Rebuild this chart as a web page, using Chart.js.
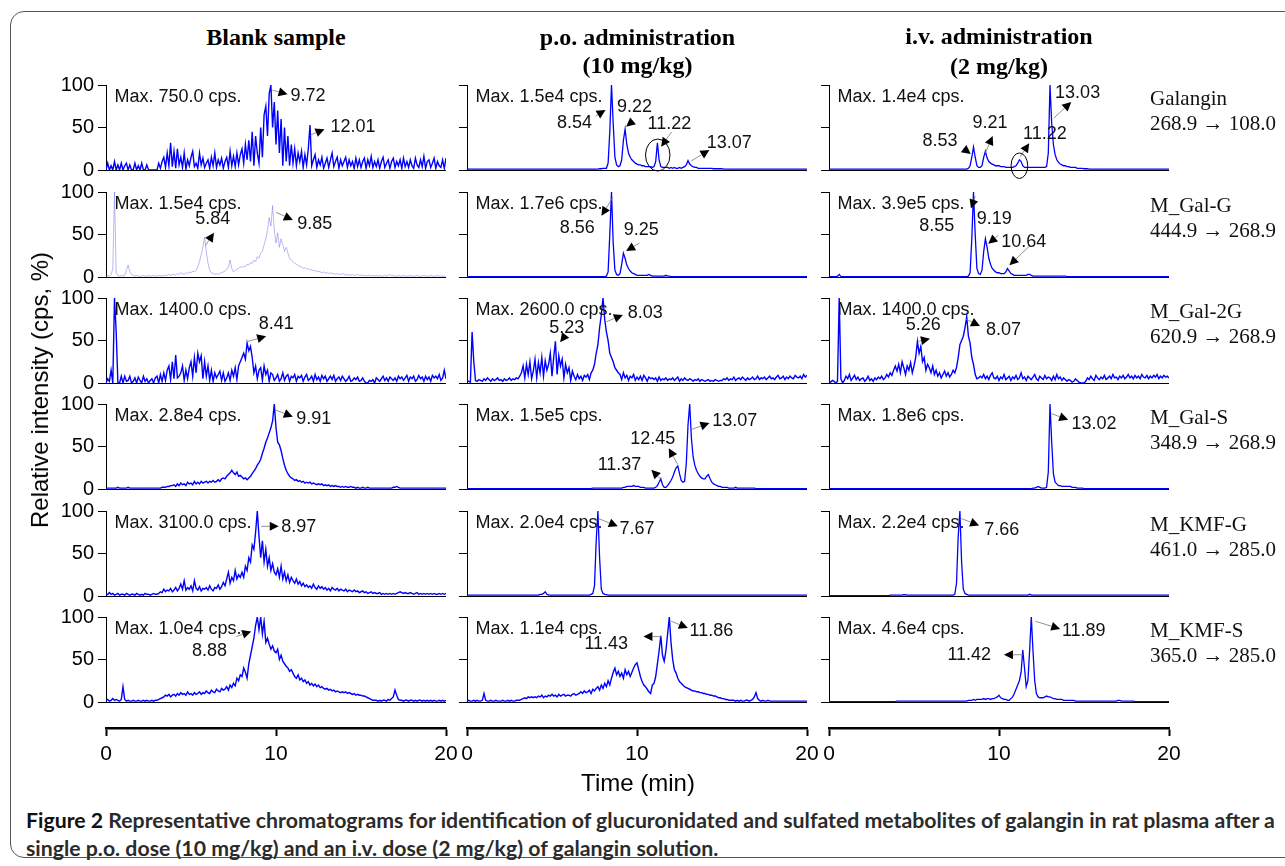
<!DOCTYPE html>
<html><head><meta charset="utf-8">
<script src="https://cdn.jsdelivr.net/npm/chart.js@4.4.0/dist/chart.umd.min.js"></script>
<style>
html,body{margin:0;padding:0;background:#fff;}
body{width:1285px;height:866px;position:relative;overflow:hidden;font-family:"Liberation Sans",Arial,sans-serif;}
.frame{position:absolute;left:10px;top:11px;width:1300px;height:847px;border:1.5px solid #555;border-radius:14px;box-sizing:border-box;}
.t{position:absolute;white-space:nowrap;line-height:1;}
.ct{font-family:"Liberation Serif";font-weight:bold;font-size:24px;transform:translate(-50%,-50%);color:#000;}
.rl{font-family:"Liberation Serif";font-size:21px;transform:translateY(-50%);color:#111;}
.ax{font-family:"Liberation Sans";font-size:24px;color:#000;}
canvas{position:absolute;}
#cap{position:absolute;left:26px;top:806px;font-family:Lato,"Open Sans",sans-serif;font-weight:700;color:#2b2b2b;line-height:28px;white-space:nowrap;}
</style></head><body>
<div class="frame"></div>
<script>
// ---------- data (relative intensity %, sampled every 0.1 min from 0 to 20 min) ----------
const timeStep = 0.1;
const xTicks = [0, 10, 20];
const yTicks = [0, 50, 100];
const columnTitles = [['Blank sample'], ['p.o. administration', '(10 mg/kg)'], ['i.v. administration', '(2 mg/kg)']];
const analytes = ['Galangin', 'M_Gal-G', 'M_Gal-2G', 'M_Gal-S', 'M_KMF-G', 'M_KMF-S'];
const transitions = ['268.9 → 108.0', '444.9 → 268.9', '620.9 → 268.9', '348.9 → 268.9', '461.0 → 285.0', '365.0 → 285.0'];
const maxLabels = [
  ['Max. 750.0 cps.', 'Max. 1.5e4 cps.', 'Max. 1.4e4 cps.'],
  ['Max. 1.5e4 cps.', 'Max. 1.7e6 cps.', 'Max. 3.9e5 cps.'],
  ['Max. 1400.0 cps.', 'Max. 2600.0 cps.', 'Max. 1400.0 cps.'],
  ['Max. 2.8e4 cps.', 'Max. 1.5e5 cps.', 'Max. 1.8e6 cps.'],
  ['Max. 3100.0 cps.', 'Max. 2.0e4 cps.', 'Max. 2.2e4 cps.'],
  ['Max. 1.0e4 cps.', 'Max. 1.1e4 cps.', 'Max. 4.6e4 cps.']
];

const blankGalangin = [
0,8,0,5,0,10,0,6,0,8,
0,5,8,0,6,0,0,8,0,5,
0,8,0,0,6,0,0,0,0,0,
0,8,2,10,15,3,20,5,32,4,
22,2,25,6,15,3,20,1,12,5,
15,22,4,8,2,20,6,14,3,8,
12,2,15,5,20,3,12,6,14,2,
10,15,3,22,5,16,4,20,6,18,
25,8,30,12,35,10,45,5,40,20,
8,50,15,65,75,40,90,100,50,80,
30,70,20,60,5,50,10,40,5,30,
8,25,5,20,10,22,3,18,6,25,
53,5,12,18,3,12,6,15,2,8,
14,3,12,20,4,10,15,2,12,5,
10,15,3,12,5,10,2,14,4,12,
3,10,14,2,12,5,16,3,10,4,
12,2,10,15,3,8,12,2,10,14,
3,10,5,12,2,14,4,10,3,12,
5,2,14,6,3,12,4,16,2,10,
12,3,8,14,2,10,5,3,12,2,
14];
const blankGalG = [
1,2,1,3,10,100,5,2,1,2,
1,2,8,14,6,3,2,1,2,1,
1,1,2,1,1,2,1,1,2,1,
1,2,1,2,1,2,2,3,2,3,
3,2,4,3,5,4,3,5,4,6,
5,7,6,8,12,18,26,35,47,30,
16,8,5,4,3,4,3,4,5,6,
7,9,12,20,10,6,8,9,10,12,
11,13,12,15,14,17,16,20,18,24,
22,28,30,38,45,55,70,60,84,55,
40,52,35,45,38,30,35,28,22,20,
18,16,15,14,12,12,10,11,9,10,
8,9,7,8,6,7,6,5,6,5,
5,4,5,4,4,3,4,3,3,4,
3,3,2,3,2,3,2,2,3,2,
2,2,2,1,2,2,1,2,1,2,
1,2,1,1,2,1,2,3,1,2,
1,1,2,1,1,2,1,1,1,2,
1,1,1,2,1,1,1,2,1,1,
1,2,1,1,1,2,1,1,1,1,
1];
const blankGal2G = [
0,5,2,15,0,100,60,0,0,8,
0,8,2,3,8,0,2,6,0,7,
3,0,8,2,5,0,3,5,0,6,
8,0,10,2,12,3,15,20,4,25,
5,33,6,8,12,20,3,15,5,18,
25,8,30,12,35,25,32,5,25,8,
20,3,15,2,12,6,10,14,3,12,
2,6,12,3,15,8,18,4,20,25,
30,35,28,47,38,43,30,12,20,5,
15,18,3,20,10,15,2,12,10,3,
6,10,2,5,12,3,8,10,2,8,
6,10,2,8,6,9,2,7,10,3,
5,8,2,10,4,7,2,9,5,8,
2,5,8,4,9,2,5,7,3,8,
5,2,4,8,2,3,6,4,7,2,
3,6,2,0,0,3,2,4,0,6,
4,2,5,8,3,6,2,7,5,3,
6,2,8,5,7,3,6,9,2,7,
5,8,2,4,9,5,7,2,8,4,
7,2,9,6,8,5,10,3,6,15,
5];
const blankGalS = [
1,1,1,1,1,1,1,2,1,1,
1,1,1,2,1,1,1,1,1,1,
1,1,1,1,1,1,1,1,1,1,
1,1,1,2,2,2,3,3,4,4,
5,3,6,4,7,5,6,4,8,6,
7,5,9,6,8,6,9,7,8,9,
7,9,8,10,8,9,11,9,12,13,
12,15,17,19,22,19,17,20,15,16,
14,12,13,11,13,15,18,21,24,28,
31,35,42,48,55,60,66,72,80,100,
72,55,52,45,36,28,22,18,15,13,
12,10,11,9,10,8,9,7,8,7,
8,6,7,6,5,6,5,6,4,5,
4,5,3,4,3,4,3,3,2,3,
2,3,2,2,3,2,2,1,2,1,
1,2,1,1,2,1,1,1,1,1,
1,1,1,1,1,1,1,1,1,2,
2,3,2,1,1,1,1,1,1,1,
1,1,1,1,1,1,1,1,1,1,
1,1,1,1,1,1,1,1,1,1,
1];
const blankKmfG = [
1,2,4,2,3,1,2,3,1,2,
2,1,3,2,1,2,2,1,3,2,
1,2,1,3,2,2,1,2,3,2,
2,3,5,4,8,5,7,6,9,5,
7,10,6,9,14,8,18,7,10,8,
12,6,18,9,7,11,6,9,8,10,
7,12,8,6,10,9,13,8,11,16,
12,20,28,15,22,18,30,20,25,22,
28,22,35,30,45,40,60,55,75,100,
70,45,65,40,55,35,45,30,38,28,
25,32,22,35,20,28,18,25,16,22,
18,15,20,14,17,12,15,11,13,10,
12,9,14,10,8,12,9,11,8,10,
7,9,6,10,8,7,9,6,8,7,
6,8,5,7,6,5,7,5,6,4,
5,6,4,5,3,4,5,3,4,3,
3,4,2,3,2,3,2,3,2,3,
2,3,4,5,4,3,4,3,3,4,
3,2,3,4,2,3,2,3,2,3,
2,3,2,3,2,2,3,2,3,2,
3];
const blankKmfS = [
2,3,1,2,4,2,3,2,1,3,
18,3,1,2,1,1,2,1,1,2,
1,1,2,1,2,1,1,2,1,2,
2,3,4,5,6,8,7,9,6,8,
9,7,10,8,11,9,10,8,12,9,
10,8,11,9,10,12,9,11,10,13,
11,10,14,12,11,15,13,12,16,14,
15,18,14,20,17,22,19,28,25,32,
30,40,35,28,45,55,65,75,90,100,
85,100,80,95,70,75,68,62,66,60,
58,62,50,55,48,45,42,40,36,38,
34,30,28,32,26,28,24,26,22,24,
20,22,19,21,18,20,17,18,16,15,
16,14,15,13,14,12,13,12,11,12,
11,12,10,11,10,9,10,8,9,8,
8,7,7,6,5,4,3,2,2,2,
1,2,1,2,2,1,3,2,4,6,
14,8,3,2,2,1,2,2,1,2,
2,1,2,1,2,2,1,2,1,2,
1,2,1,2,1,1,2,1,2,1,
2];
const poGalangin = [
1,1,1,1,1,1,1,1,1,1,
1,1,1,1,1,1,1,1,1,1,
1,1,1,1,1,1,1,1,1,1,
1,1,1,1,1,1,1,1,1,1,
1,1,1,1,1,1,1,1,1,1,
1,1,1,1,1,1,1,1,1,1,
1,1,1,1,1,1,1,1,1,1,
1,1,1,1,1,1,1,1,1.5,1.5,
2,2,2,8,45,100,55,15,6,4,
5,12,35,48,30,20,15,12,10,8,
7,6,6,5,5,4,4,4,4,3,
4,10,32,12,4,3,3,3,3,2,
3,2,3,2,2,3,2,3,4,6,
11,7,5,4,3,3,2,2,2,2,
2,2,2,2,2,1.5,1.5,1.5,1.5,1.5,
1.5,1,1,1,1,1,1,1,1,1,
1,1,1,1,1,1,1,1,1,1,
1,1,1,1,1,1,1,1,1,1,
1,1,1,1,1,1,1,1,1,1,
1,1,1,1,1,1,1,1,1,1,
1];
const poGalG = [
0.5,0.5,0.5,0.5,0.5,0.5,0.5,0.5,0.5,0.5,
0.5,0.5,0.5,0.5,0.5,0.5,0.5,0.5,0.5,0.5,
0.5,0.5,0.5,0.5,0.5,0.5,0.5,0.5,0.5,0.5,
0.5,0.5,0.5,0.5,0.5,0.5,0.5,0.5,0.5,0.5,
0.5,0.5,0.5,0.5,0.5,0.5,0.5,0.5,0.5,0.5,
0.5,0.5,0.5,0.5,0.5,0.5,0.5,0.5,0.5,0.5,
0.5,0.5,0.5,0.5,0.5,0.5,0.5,0.5,0.5,0.5,
0.5,0.5,0.5,0.5,0.5,0.5,0.5,0.5,0.5,0.5,
0.5,0.5,1,6,50,100,40,8,3,2,
4,15,28,22,14,10,7,5,4,3,
2,2,2,2,2,2,2,3,2,1,
1,1,1,1,1,1,1,2,1,1,
0.5,0.5,0.5,0.5,0.5,0.5,0.5,0.5,0.5,0.5,
0.5,0.5,0.5,0.5,0.5,0.5,0.5,0.5,0.5,0.5,
0.5,0.5,0.5,0.5,0.5,0.5,0.5,0.5,0.5,0.5,
0.5,0.5,0.5,0.5,0.5,0.5,0.5,0.5,0.5,0.5,
0.5,0.5,0.5,0.5,0.5,0.5,0.5,0.5,0.5,0.5,
0.5,0.5,0.5,0.5,0.5,0.5,0.5,0.5,0.5,0.5,
0.5,0.5,0.5,0.5,0.5,0.5,0.5,0.5,0.5,0.5,
0.5,0.5,0.5,0.5,0.5,0.5,0.5,0.5,0.5,0.5,
0.5];
const poGal2G = [
3,2,1,60,25,3,2,4,3,2,
5,3,6,4,2,5,3,4,6,3,
4,2,5,3,4,6,3,5,4,6,
5,8,12,20,6,22,10,25,5,14,
28,6,24,12,30,8,26,15,22,35,
8,30,49,10,32,20,28,6,22,12,
18,3,14,8,4,10,5,8,3,9,
7,10,4,12,15,22,35,45,65,80,
100,75,60,50,35,30,25,18,15,12,
10,4,12,6,9,3,8,6,10,3,
7,4,8,3,9,6,2,7,5,6,
4,6,2,7,3,5,4,6,3,5,
4,6,3,5,7,2,5,3,6,4,
3,5,4,2,4,3,5,2,4,3,
2,3,4,2,3,2,4,3,2,3,
3,5,4,6,3,5,4,7,3,5,
6,4,7,5,3,6,4,5,7,4,
5,8,4,6,5,7,4,6,8,5,
6,4,7,9,5,6,8,4,7,5,
8,6,5,9,7,6,8,5,10,7,
9];
const poGalS = [
0.5,0.5,0.5,0.5,0.5,0.5,0.5,0.5,0.5,0.5,
0.5,0.5,0.5,0.5,0.5,0.5,0.5,0.5,0.5,0.5,
0.5,0.5,0.5,0.5,0.5,0.5,0.5,0.5,0.5,0.5,
0.5,0.5,0.5,0.5,0.5,0.5,0.5,0.5,0.5,0.5,
0.5,0.5,0.5,0.5,0.5,0.5,0.5,0.5,0.5,0.5,
0.5,0.5,0.5,0.5,0.5,0.5,0.5,0.5,0.5,0.5,
0.5,0.5,0.5,0.5,0.5,0.5,0.5,0.5,0.5,0.5,
0.5,0.5,0.5,0.5,1,1,1,1,1,1,
1,1,1,1,1,1,1,1,1,1,
1,1,2,2,3,3,3,3,4,3,
3,3,2,2,2,1,1,1,1,1,
1,2,4,8,12,5,2,2,4,7,
10,14,20,25,27,18,10,8,9,30,
75,100,60,38,28,22,18,15,13,12,
12,15,17,12,8,6,5,4,3,3,
2,2,2,2,1,1,1,1,2,1,
1,1,1,1,1,1,1,1,1,1,
0.5,0.5,0.5,0.5,0.5,0.5,0.5,0.5,0.5,0.5,
0.5,0.5,0.5,0.5,0.5,0.5,0.5,0.5,0.5,0.5,
0.5,0.5,0.5,0.5,0.5,0.5,0.5,0.5,0.5,0.5,
0.5];
const poKmfG = [
1,1,1,1,1,1,1,1,1,1,
1,1,1,1,1,1,1,1,1,1,
1,1,1,1,1,1,1,1,1,1,
1,1,1,1,1,1,1,1,1,1,
1,1,1,2,2,3,5,2,1,1,
1,1,1,1,1,1,1,1,1,1,
1,1,1,1,1,1,1,1,1,1,
1,1,1,2,3,12,65,100,45,8,
3,2,1.5,1,1,1,1,1,1,1,
1,1,1,1,1,1,1,1,1,1,
1,1,1,1,1,1,1,1,1,1,
1,1,1,1,1,1,1,1,1,1,
1,1,1,1,1,1,1,1,1,1,
1,1,1,1,1,1,1,1,1,1,
1,1,1,1,1,1,1,1,1,1,
1,1,1,1,1,1,1,1,1,1,
1,1,1,1,1,1,1,1,1,1,
1,1,1,1,1,1,1,1,1,1,
1,1,1,1,1,1,1,1,1,1,
1,1,1,1,1,1,1,1,1,1,
1];
const poKmfS = [
1,2,1,1,2,1,2,1,1,2,
10,2,1,1,2,1,1,2,1,1,
1,2,1,1,2,1,2,1,1,2,
2,2,3,4,5,4,6,5,6,5,
6,5,7,6,8,5,7,6,8,7,
9,7,8,6,9,7,8,9,7,8,
8,7,9,10,8,9,10,12,10,13,
11,12,14,10,15,13,16,18,14,20,
16,22,18,25,20,28,35,40,32,36,
30,34,28,38,32,36,30,35,40,44,
46,38,30,24,20,18,15,12,10,20,
22,30,45,60,78,55,48,60,80,100,
70,50,38,34,28,24,22,20,18,17,
16,15,14,13,13,12,12,11,11,10,
10,9,9,8,8,7,7,6,5,5,
4,4,3,3,2,2,2,2,1,2,
1,2,1,1,2,2,1,2,3,6,
11,4,2,1,2,1,1,2,1,1,
1,1,1,1,1,1,1,1,1,1,
1,1,1,1,1,1,1,1,1,1,
1];
const ivGalangin = [
1,1,1,1,1,1,1,1,1,1,
1,1,1,1,1,1,1,1,1,1,
1,1,1,1,1,1,1,1,1,1,
1,1,1,1,1,1,1,1,1,1,
1,1,1,1,1,1,1,1,1,1,
1,1,1,1,1,1,1,1,1,1,
1,1,1,1,1,1,1,1,1,1,
1,1,1,1,1,1,1,1,1,1,
1,1,2,5,15,27,15,5,3,3,
5,15,22,14,10,8,7,6,5,5,
5,4,4,4,3,3,3,3,3,4,
5,8,12,10,5,3,3,3,3,3,
3,3,3,3,3,3,3,3,4,20,
100,55,30,18,12,9,7,6,5,5,
4,4,3,3,3,3,2,2,2,2,
1.5,1.5,1.5,1,1,1,1,1,1,1,
1,1,1,1,1,1,1,1,1,1,
1,1,1,1,1,1,1,1,1,1,
1,1,1,1,1,1,1,1,1,1,
1,1,1,1,1,1,1,1,1,1,
1];
const ivGalG = [
0.5,0.5,0.5,0.5,0.5,1,3,0.5,0.5,0.5,
0.5,0.5,0.5,0.5,0.5,0.5,0.5,0.5,0.5,0.5,
0.5,0.5,0.5,0.5,0.5,0.5,0.5,0.5,0.5,0.5,
0.5,0.5,0.5,0.5,0.5,0.5,0.5,0.5,0.5,0.5,
0.5,0.5,0.5,0.5,0.5,0.5,0.5,0.5,0.5,0.5,
0.5,0.5,0.5,0.5,0.5,0.5,0.5,0.5,0.5,0.5,
0.5,0.5,0.5,0.5,0.5,0.5,0.5,0.5,0.5,0.5,
0.5,0.5,0.5,0.5,0.5,0.5,0.5,0.5,0.5,0.5,
0.5,0.5,1,5,45,100,50,10,4,3,
8,30,45,35,22,15,10,8,6,5,
5,4,4,4,6,10,7,4,3,2,
2,2,2,2,2,2,2,3,3,2,
1,1,1,1,1,1,1,1,1,1,
1,1,1,1,1,1,1,1,1,1,
0.5,0.5,0.5,0.5,0.5,0.5,0.5,0.5,0.5,0.5,
0.5,0.5,0.5,0.5,0.5,0.5,0.5,0.5,0.5,0.5,
0.5,0.5,0.5,0.5,0.5,0.5,0.5,0.5,0.5,0.5,
0.5,0.5,0.5,0.5,0.5,0.5,0.5,0.5,0.5,0.5,
0.5,0.5,0.5,0.5,0.5,0.5,0.5,0.5,0.5,0.5,
0.5,0.5,0.5,0.5,0.5,0.5,0.5,0.5,0.5,0.5,
0.5];
const ivGal2G = [
2,1,3,2,0,2,100,5,0,3,
8,5,10,3,6,9,4,7,3,5,
6,2,4,8,3,5,2,6,4,7,
5,8,4,6,10,7,12,9,15,20,
14,22,12,25,18,10,20,15,24,12,
20,30,49,35,43,25,30,15,22,18,
12,20,10,15,8,12,6,10,14,8,
12,7,10,15,12,18,30,45,50,55,
65,78,55,47,30,22,10,5,6,8,
6,10,5,8,4,9,12,6,5,8,
3,7,5,10,4,6,8,3,7,5,
9,4,6,12,5,7,3,8,6,4,
7,10,5,3,8,6,4,9,5,7,
6,3,8,4,10,5,7,3,6,4,
2,4,3,1,2,5,3,1,0,0,
0,2,6,4,8,5,3,9,6,4,
7,5,9,4,6,8,5,10,6,7,
4,8,6,9,5,7,10,6,8,5,
9,6,8,5,10,7,6,9,5,8,
6,9,7,10,5,8,6,9,7,8,
6];
const ivGalS = [
0.5,0.5,0.5,0.5,0.5,0.5,0.5,0.5,0.5,0.5,
0.5,0.5,0.5,0.5,0.5,0.5,0.5,0.5,0.5,0.5,
0.5,0.5,0.5,0.5,0.5,0.5,0.5,0.5,0.5,0.5,
0.5,0.5,0.5,0.5,0.5,0.5,0.5,0.5,0.5,0.5,
0.5,0.5,0.5,0.5,0.5,0.5,0.5,0.5,0.5,0.5,
0.5,0.5,0.5,0.5,0.5,0.5,0.5,0.5,0.5,0.5,
0.5,0.5,0.5,0.5,0.5,0.5,0.5,0.5,0.5,0.5,
0.5,0.5,0.5,0.5,0.5,0.5,0.5,0.5,0.5,0.5,
0.5,0.5,0.5,0.5,0.5,0.5,0.5,0.5,0.5,0.5,
0.5,0.5,0.5,0.5,0.5,0.5,0.5,0.5,0.5,0.5,
0.5,0.5,0.5,0.5,0.5,0.5,0.5,0.5,0.5,0.5,
0.5,0.5,0.5,0.5,0.5,0.5,0.5,0.5,0.5,0.5,
1,1,2,3,2,1,1,1,2,20,
100,55,18,8,6,4,4,3,3,3,
3,3,3,2,2,2,1,1,1,1,
0.5,0.5,0.5,0.5,0.5,0.5,0.5,0.5,0.5,0.5,
0.5,0.5,0.5,0.5,0.5,0.5,0.5,0.5,0.5,0.5,
0.5,0.5,0.5,0.5,0.5,0.5,0.5,0.5,0.5,0.5,
0.5,0.5,0.5,0.5,0.5,0.5,0.5,0.5,0.5,0.5,
0.5,0.5,0.5,0.5,0.5,0.5,0.5,0.5,0.5,0.5,
0.5];
const ivKmfG = [
0.5,0.5,0.5,0.5,0.5,0.5,0.5,0.5,0.5,0.5,
0.5,0.5,0.5,0.5,0.5,0.5,0.5,0.5,0.5,0.5,
0.5,0.5,0.5,0.5,0.5,0.5,0.5,0.5,0.5,0.5,
0.5,0.5,0.5,0.5,0.5,0.5,1,1,1,1,
1,1,1,1,1.5,1.5,1,1,1,1,
1,1,1,1,1,1,1,1,1,1,
1,1,1,1,1,1,1,1,1,1,
1,1,1,1,2,15,70,100,40,8,
3,2,1,1,1,1,1,1,1,1,
1,1,1,1,1,1,1,1,1,1,
1,1,1,1,1,1,1,1,1,1,
1,1,1,1,1,1,1,1,2,1,
1,1,1,1,1,1,1,1,1,1,
1,1,1,1,1,1,1,1,1,1,
1,1,1,1,1,1,1,1,1,1,
1,1,1,1,1,1,1,1,1,1,
1,1,1,1,1,1,1,1,1,1,
1,1,1,1,1,1,1,1,1,1,
1,1,1,1,1,1,1,1,1,1,
1,1,1,1,1,1,1,1,1,1,
1];
const ivKmfS = [
0.5,0.5,0.5,0.5,0.5,0.5,0.5,0.5,0.5,0.5,
0.5,0.5,0.5,0.5,0.5,0.5,0.5,0.5,0.5,0.5,
0.5,0.5,0.5,0.5,0.5,0.5,0.5,0.5,0.5,0.5,
0.5,0.5,0.5,0.5,0.5,0.5,0.5,0.5,0.5,0.5,
1,1,1,1,1,1,1,1,1,1,
1,1,1,1,1,1,1,1,1,1,
1,1,1,1,1,1,1,1,1,1,
1,1,1,1,1,1,1,1,1,1,
1,1,2,2,2,3,2,3,3,3,
3,4,3,4,4,3,4,4,5,6,
8,5,4,3,3,2,2,4,6,10,
15,20,25,35,61,40,18,25,60,100,
60,25,10,6,5,5,5,6,7,6,
6,5,4,4,3,3,3,3,2,2,
2,2,2,2,2,1,1,1,1,1,
1,1,1,1,1,1,1,1,1,1,
1,1,1,1,1,1,1,1,1,1,
2,2,1,1,1,1,1,1,1,1,
0.5,0.5,0.5,0.5,0.5,0.5,0.5,0.5,0.5,0.5,
0.5,0.5,0.5,0.5,0.5,0.5,0.5,0.5,0.5,0.5,
0.5];

// panels in reading order (row by row: blank, p.o., i.v.)
const panelSeries = [
  blankGalangin, poGalangin, ivGalangin,
  blankGalG, poGalG, ivGalG,
  blankGal2G, poGal2G, ivGal2G,
  blankGalS, poGalS, ivGalS,
  blankKmfG, poKmfG, ivKmfG,
  blankKmfS, poKmfS, ivKmfS
];
const noisyTraces = [0, 6, 7, 8, 9, 12, 15, 16];

// peak annotations, in data coordinates [time, %]
const peakNotes = {
  0: [{label:'9.72', tail:[9.78,94], head:[10.68,89], at:[10.85,87], align:'left'},
      {label:'12.01', tail:[12.01,41], head:[12.85,48], at:[13.2,51], align:'left'}],
  1: [{label:'8.54', tail:[7.56,63.5], head:[8.15,70.6], at:[6.32,55], align:'center'},
      {label:'9.22', tail:[9.72,57], head:[9.36,51], at:[9.85,74.5], align:'center'},
      {label:'11.22', tail:[12.03,44.7], head:[11.42,27.4], at:[11.91,54], align:'center'},
      {label:'13.07', tail:[13.19,10.6], head:[14.26,23.5], at:[14.1,32], align:'left'}],
  2: [{label:'8.53', tail:[7.9,25.5], head:[8.34,18.8], at:[6.53,34], align:'center'},
      {label:'9.21', tail:[9.18,19.6], head:[9.63,40], at:[9.47,55.6], align:'center'},
      {label:'11.22', tail:[11.25,15.6], head:[11.78,31.4], at:[12.7,42], align:'center'},
      {label:'13.03', tail:[13.22,61], head:[14.25,80], at:[13.3,90], align:'left'}],
  3: [{label:'5.84', tail:[5.85,37], head:[6.35,52], at:[6.28,68], align:'center'},
      {label:'9.85', tail:[10.01,76], head:[10.99,67], at:[11.25,62], align:'left'}],
  4: [{label:'8.56', tail:[8.56,93], head:[7.91,72], at:[6.48,58], align:'center'},
      {label:'9.25', tail:[10.15,40], head:[9.36,30.6], at:[10.25,55], align:'center'}],
  5: [{label:'8.55', tail:[8.6,95], head:[8.35,80.5], at:[6.34,60], align:'center'},
      {label:'9.19', tail:[9.96,49], head:[9.37,39], at:[9.72,68], align:'center'},
      {label:'10.64', tail:[11.82,37], head:[10.61,13.8], at:[10.13,41], align:'left'}],
  6: [{label:'8.41', tail:[8.34,49], head:[9.42,55], at:[10.01,69], align:'center'}],
  7: [{label:'5.23', tail:[5.79,56], head:[5.48,48], at:[5.87,65], align:'center'},
      {label:'8.03', tail:[8.19,72], head:[9.17,80], at:[9.46,82], align:'left'}],
  8: [{label:'5.26', tail:[5.25,49], head:[5.94,52], at:[5.55,68], align:'center'},
      {label:'8.07', tail:[8.06,75], head:[8.88,67], at:[9.24,62], align:'left'}],
  9: [{label:'9.91', tail:[9.97,93], head:[10.99,85], at:[11.19,82], align:'left'}],
  10: [{label:'11.37', tail:[11.42,11], head:[10.84,22.7], at:[8.97,28.6], align:'center'},
       {label:'12.45', tail:[12.4,28.6], head:[11.87,48], at:[10.93,58.8], align:'center'},
       {label:'13.07', tail:[13.19,70], head:[14.26,77.6], at:[14.42,79.5], align:'left'}],
  11: [{label:'13.02', tail:[13.09,88.6], head:[14.07,81.5], at:[14.27,76.8], align:'left'}],
  12: [{label:'8.97', tail:[9.13,82], head:[10.16,82], at:[10.31,81], align:'left'}],
  13: [{label:'7.67', tail:[7.75,91], head:[8.87,82], at:[8.97,79], align:'left'}],
  14: [{label:'7.66', tail:[7.8,91], head:[8.83,83], at:[9.13,78], align:'left'}],
  15: [{label:'8.88', tail:[7.66,77], head:[8.54,83], at:[6.09,60], align:'center'}],
  16: [{label:'11.43', tail:[11.42,77], head:[10.38,77], at:[8.19,68], align:'center'},
       {label:'11.86', tail:[12.01,95], head:[12.99,87], at:[13.09,84], align:'left'}],
  17: [{label:'11.89', tail:[12.14,95], head:[13.6,86], at:[13.7,84], align:'left'},
       {label:'11.42', tail:[11.43,55.6], head:[10.29,55.6], at:[8.25,55.6], align:'center'}]
};
// circled peaks: [time, %, radius in min, radius in %]
const circledPeaks = { 1: [11.22, 17.6, 0.72, 18.8], 2: [11.2, 5, 0.49, 15] };
const maxLabelAt = [0.5, 86];

// ---------- layout ----------
const colX = [106, 467, 829];
const rowTop = [85, 192, 298, 404, 511, 617];

function addCanvas(left, top, w, h) {
  const c = document.createElement('canvas');
  c.width = w; c.height = h;
  c.style.left = left + 'px'; c.style.top = top + 'px';
  c.style.width = w + 'px'; c.style.height = h + 'px';
  document.body.appendChild(c);
  return c;
}
function addText(txt, x, y, cls, extra) {
  const d = document.createElement('div');
  d.className = 't ' + cls;
  d.textContent = txt;
  d.style.left = x + 'px'; d.style.top = y + 'px';
  if (extra) Object.assign(d.style, extra);
  document.body.appendChild(d);
  return d;
}

function notesPlugin(i) {
  return {
    id: 'notes' + i,
    afterDatasetsDraw(chart) {
      const ctx = chart.ctx, xs = chart.scales.x, ys = chart.scales.y;
      const P = (t, v) => [xs.getPixelForValue(t), ys.getPixelForValue(v)];
      const r = Math.floor(i / 3), c = i % 3;
      ctx.save();
      ctx.font = '18px "Liberation Sans"';
      ctx.textBaseline = 'middle';
      ctx.fillStyle = '#111';
      ctx.textAlign = 'left';
      const [mx, my] = P(maxLabelAt[0], maxLabelAt[1]);
      ctx.fillText(maxLabels[r][c], mx, my);
      (peakNotes[i] || []).forEach(n => {
        const [tx, ty] = P(n.tail[0], n.tail[1]);
        const [hx, hy] = P(n.head[0], n.head[1]);
        const ang = Math.atan2(hy - ty, hx - tx), L = 9, W = 4.5;
        const bx = hx - L * Math.cos(ang), by = hy - L * Math.sin(ang);
        ctx.strokeStyle = '#777'; ctx.lineWidth = 0.8;
        ctx.beginPath(); ctx.moveTo(tx, ty); ctx.lineTo(bx, by); ctx.stroke();
        ctx.fillStyle = '#000';
        ctx.beginPath();
        ctx.moveTo(hx, hy);
        ctx.lineTo(bx + W * Math.sin(ang), by - W * Math.cos(ang));
        ctx.lineTo(bx - W * Math.sin(ang), by + W * Math.cos(ang));
        ctx.closePath(); ctx.fill();
        const [lx, ly] = P(n.at[0], n.at[1]);
        ctx.fillStyle = '#111'; ctx.textAlign = n.align;
        ctx.fillText(n.label, lx, ly);
      });
      const e = circledPeaks[i];
      if (e) {
        const [cx, cy] = P(e[0], e[1]);
        const rx = Math.abs(xs.getPixelForValue(e[0] + e[2]) - cx);
        const ry = Math.abs(ys.getPixelForValue(e[1] + e[3]) - cy);
        ctx.strokeStyle = '#000'; ctx.lineWidth = 1;
        ctx.beginPath(); ctx.ellipse(cx, cy, rx, ry, 0, 0, Math.PI * 2); ctx.stroke();
      }
      ctx.restore();
    }
  };
}

panelSeries.forEach((vals, i) => {
  const r = Math.floor(i / 3), c = i % 3;
  const cv = addCanvas(colX[c] - 70, rowTop[r] - 30, 440, 131);
  new Chart(cv, {
    type: 'line',
    data: { datasets: [{
      data: vals.map((v, k) => ({ x: +(k * timeStep).toFixed(1), y: v })),
      borderColor: i === 3 ? 'rgba(110,110,235,0.55)' : '#0000ff',
      borderWidth: i === 3 ? 0.9 : (noisyTraces.includes(i) ? 1.4 : 1.3),
      pointRadius: 0, tension: 0, fill: false
    }] },
    options: {
      responsive: false, animation: false, devicePixelRatio: 1, events: [],
      layout: { padding: { top: 30, right: 30, bottom: 16, left: 0 } },
      scales: {
        x: { type: 'linear', min: 0, max: 20, display: false },
        y: {
          type: 'linear', min: 0, max: 100,
          afterFit(s) { s.width = 70; },
          afterBuildTicks(s) { s.ticks = yTicks.map(v => ({ value: v })); },
          ticks: { display: c === 0, font: { family: 'Liberation Sans', size: 20 }, color: '#000', padding: 4 },
          grid: { color: ctx => (ctx.tick && ctx.tick.value === 0) ? '#000' : 'rgba(0,0,0,0)', tickColor: '#000', tickLength: 8, lineWidth: 1 },
          border: { display: true, color: '#000', width: 1 }
        }
      },
      plugins: { legend: { display: false }, tooltip: { enabled: false } }
    },
    plugins: [notesPlugin(i)]
  });
});

// shared time axes at the bottom of each column
colX.forEach(x0 => {
  const cv = addCanvas(x0 - 25, 718, 390, 75);
  new Chart(cv, {
    type: 'line',
    data: { datasets: [] },
    options: {
      responsive: false, animation: false, devicePixelRatio: 1, events: [],
      layout: { padding: { top: 6, left: 25, right: 25, bottom: 0 } },
      scales: {
        x: {
          type: 'linear', min: 0, max: 20, position: 'bottom',
          afterFit(s) { s.height = 65; },
          afterBuildTicks(s) { s.ticks = xTicks.map(v => ({ value: v })); },
          ticks: { font: { family: 'Liberation Sans', size: 21 }, color: '#000', padding: 6, maxRotation: 0 },
          grid: { drawOnChartArea: false, tickLength: 8, tickWidth: 2, tickColor: '#000', color: '#000' },
          border: { display: true, color: '#000', width: 2.5 }
        },
        y: { display: false }
      },
      plugins: { legend: { display: false }, tooltip: { enabled: false } }
    }
  });
});

// titles and labels
addText(columnTitles[0][0], 276, 37, 'ct');
addText(columnTitles[1][0], 637.5, 37, 'ct');
addText(columnTitles[1][1], 637.5, 65, 'ct');
addText(columnTitles[2][0], 999, 36, 'ct');
addText(columnTitles[2][1], 999, 66, 'ct');
analytes.forEach((a, r) => {
  addText(a, 1150, rowTop[r] + 13, 'rl');
  addText(transitions[r], 1150, rowTop[r] + 38, 'rl');
});
addText('Relative intensity (cps, %)', 40, 390, 'ax', { transform: 'translate(-50%,-50%) rotate(-90deg)' });
addText('Time (min)', 638, 783, 'ax', { transform: 'translate(-50%,-50%)' });

// caption
const cap = document.createElement('div');
cap.id = 'cap';
cap.innerHTML = '<span id="l1"><span style="color:#111">Figure 2</span> Representative chromatograms for identification of glucuronidated and sulfated metabolites of galangin in rat plasma after a</span><br><span id="l2">single p.o. dose (10 mg/kg) and an i.v. dose (2 mg/kg) of galangin solution.</span>';
cap.style.fontSize = '16px';
document.body.appendChild(cap);
const w1 = document.getElementById('l1').getBoundingClientRect().width;
cap.style.fontSize = (16 * 1249 / w1).toFixed(2) + 'px';
</script>
</body></html>
